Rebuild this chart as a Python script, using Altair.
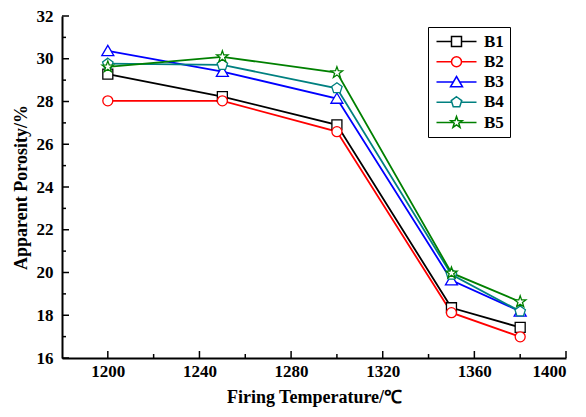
import math
import altair as alt
import pandas as pd

temps = [1200, 1250, 1300, 1350, 1380]
series_names = ["B1", "B2", "B3", "B4", "B5"]
b1 = [29.28, 28.23, 26.91, 18.35, 17.43]
b2 = [28.03, 28.03, 26.59, 18.12, 16.99]
b3 = [30.37, 29.40, 28.14, 19.64, 18.18]
b4 = [29.77, 29.71, 28.62, 19.90, 18.18]
b5 = [29.62, 30.09, 29.35, 19.98, 18.63]
colors = ["#000000", "#ff0000", "#0000ff", "#008080", "#008000"]

y_major = [16, 18, 20, 22, 24, 26, 28, 30, 32]
y_minor = [17, 19, 21, 23, 25, 27, 29, 31]
x_major = [1200, 1240, 1280, 1320, 1360, 1400]
x_minor = [1220, 1260, 1300, 1340, 1380]

rows = []
for name, vals in zip(series_names, [b1, b2, b3, b4, b5]):
    for t, v in zip(temps, vals):
        rows.append({"series": name, "temp": t, "value": v})
df = pd.DataFrame(rows)


def poly(points):
    return "M" + "L".join(f"{x:.3f},{y:.3f}" for x, y in points) + "Z"


square = "M-1,-1H1V1H-1Z"
circle = "M1,0A1,1,0,1,1,-1,0A1,1,0,1,1,1,0Z"
triangle = "M0,-1.1L1.2,0.95L-1.2,0.95Z"
pent = poly([(1.1 * math.cos(math.radians(-90 + 72 * k)), 1.1 * math.sin(math.radians(-90 + 72 * k))) for k in range(5)])
star = poly([((1.2 if k % 2 == 0 else 0.48) * math.cos(math.radians(-90 + 36 * k)),
              (1.2 if k % 2 == 0 else 0.48) * math.sin(math.radians(-90 + 36 * k))) for k in range(10)])
marker_paths = [square, circle, triangle, pent, star]
gaps = [1.0, 1.0, 0.64, 0.94, 0.62]
legend_paths = [f"M-4,0H-{g}M{g},0H4" + p for g, p in zip(gaps, marker_paths)]

FONT = "Liberation Serif"
NBSP = "\u00a0"

xscale = alt.Scale(domain=[1180, 1400], nice=False, zero=False)
yscale = alt.Scale(domain=[16, 32], nice=False, zero=False)
cscale = alt.Scale(domain=series_names, range=colors)

xaxis = alt.Axis(values=x_major, format="d", ticks=False, tickSize=0, grid=False, domainWidth=2,
                 domainColor="black", labelPadding=5, labelFont=FONT, labelFontSize=17,
                 labelFontWeight="bold", labelColor="black", title="Firing Temperature/℃",
                 titleFont=FONT, titleFontSize=18, titleFontWeight="bold", titleColor="black",
                 titlePadding=9)
yaxis = alt.Axis(values=y_major, ticks=False, tickSize=0, grid=False, domainWidth=2,
                 domainColor="black", labelPadding=9, labelFont=FONT, labelFontSize=17,
                 labelFontWeight="bold", labelColor="black", title="Apparent Porosity/%",
                 titleFont=FONT, titleFontSize=18, titleFontWeight="bold", titleColor="black",
                 titlePadding=6)

legend = alt.Legend(title=None, orient="none", legendX=366, legendY=11, padding=6,
                    strokeColor="black", labelFont=FONT, labelFontSize=17, labelFontWeight="bold",
                    labelColor="black", labelOffset=19, symbolOffset=14, symbolSize=100,
                    symbolStrokeWidth=1.5, symbolOpacity=1, symbolFillColor="white",
                    rowPadding=2.25, labelExpr="datum.label + '" + NBSP * 3 + "'")

base = alt.Chart(df)
lines = base.mark_line(strokeWidth=1.8).encode(
    x=alt.X("temp:Q", scale=xscale, axis=xaxis),
    y=alt.Y("value:Q", scale=yscale, axis=yaxis),
    color=alt.Color("series:N", scale=cscale, legend=None),
)
points = base.mark_point(filled=False, fill="white", size=100, strokeWidth=1.3, opacity=1).encode(
    x=alt.X("temp:Q", scale=xscale),
    y=alt.Y("value:Q", scale=yscale),
    color=alt.Color("series:N", scale=cscale, legend=None),
    shape=alt.Shape("series:N", scale=alt.Scale(domain=series_names, range=marker_paths), legend=None),
)
legend_layer = base.mark_point(filled=False, fill="white", size=100, strokeWidth=1.5, opacity=0).encode(
    x=alt.X("temp:Q", scale=xscale),
    y=alt.Y("value:Q", scale=yscale),
    stroke=alt.Stroke("series:N", scale=cscale, legend=legend),
    shape=alt.Shape("series:N", scale=alt.Scale(domain=series_names, range=legend_paths), legend=legend),
)

ymaj = alt.Chart(pd.DataFrame({"v": y_major})).mark_rule(color="black", strokeWidth=1.5).encode(
    y=alt.Y("v:Q", scale=yscale), x=alt.value(0), x2=alt.value(7))
ymin = alt.Chart(pd.DataFrame({"v": y_minor})).mark_rule(color="black", strokeWidth=1.5).encode(
    y=alt.Y("v:Q", scale=yscale), x=alt.value(0), x2=alt.value(4))
xmaj = alt.Chart(pd.DataFrame({"v": x_major})).mark_rule(color="black", strokeWidth=1.5).encode(
    x=alt.X("v:Q", scale=xscale), y=alt.value(342), y2=alt.value(335))
xmin = alt.Chart(pd.DataFrame({"v": x_minor})).mark_rule(color="black", strokeWidth=1.5).encode(
    x=alt.X("v:Q", scale=xscale), y=alt.value(342), y2=alt.value(338))

chart = alt.layer(lines, points, legend_layer, ymaj, ymin, xmaj, xmin).resolve_scale(
    shape="independent", stroke="independent"
).properties(
    width=504, height=342,
    autosize=alt.AutoSizeParams(type="none"),
    padding={"left": 54, "top": 8, "right": 12, "bottom": 51},
    background="white",
).configure_view(strokeWidth=0)

chart.save("out.html", embed_options={"renderer": "svg", "actions": False})
